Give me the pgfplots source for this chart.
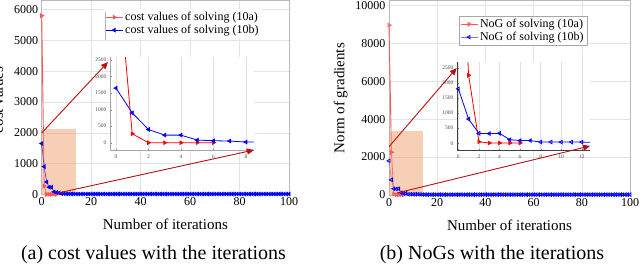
\documentclass[border=0pt]{standalone}
\usepackage{pgfplots}
\pgfplotsset{compat=1.18}
\usetikzlibrary{arrows.meta}
\usepackage{fontspec}
\setmainfont{Liberation Serif}
\definecolor{arrowred}{RGB}{185,15,15}
\definecolor{peach}{RGB}{240,160,110}
\definecolor{lred}{RGB}{255,85,85}
\definecolor{lblue}{RGB}{120,120,255}
\pgfplotsset{
 mainax/.style={scale only axis, anchor=south west, xmin=0, xmax=100,
  grid=major, grid style={gray!22}, axis line style={gray!55},
  major tick length=0pt,
  tick label style={font=\fontsize{12}{14}\selectfont},
  label style={font=\fontsize{15}{17}\selectfont},
  /pgf/number format/assume math mode=true,
  /pgf/number format/set thousands separator={},
  scaled y ticks=false, clip=false, xtick={0,20,...,100},
  xlabel={Number of iterations},
  xlabel style={at={(axis description cs:0.5,-0.155)}, anchor=center},
  legend style={font=\fontsize{12}{13}\selectfont, anchor=north west, inner sep=1pt, row sep=-1pt},
  legend cell align=left},
 inax/.style={scale only axis, anchor=south west,
  axis background/.style={fill=white},
  xmajorgrids, grid style={gray!25},
  axis x line*=bottom, axis y line*=left,
  axis line style={gray!70, line width=0.8pt},
  major tick length=1.5pt, tick style={gray},
  tick label style={font=\fontsize{5.5}{6}\selectfont, text=black!70},
  xticklabel style={yshift=-1pt},
  /pgf/number format/assume math mode=true,
  /pgf/number format/set thousands separator={},
  scaled y ticks=false, clip=true,
  ytick={0,500,...,2500}},
 rmark/.style={mark=triangle*, mark size=2pt, mark options={rotate=-90, solid}},
 bmark/.style={mark=triangle*, mark size=2pt, mark options={rotate=90, solid}},
 bmarko/.style={mark=triangle, mark size=2pt, mark options={rotate=90, solid, draw=blue}},
}
\begin{document}
\begin{tikzpicture}
\path[use as bounding box] (0pt,0pt) rectangle (640pt,266pt);

% ---------- left main
\begin{axis}[mainax, at={(41.7pt,71.7pt)}, width=247.3pt, height=194pt,
  ymin=0, ymax=6300, ytick={0,1000,...,6000},
  ylabel={cost values},
  ylabel style={at={(axis description cs:-0.178,0.486)}, anchor=center},
  legend style={at={(axis description cs:0.252,0.955)}, draw=none, fill=white}]
\addplot[lred, line width=0.9pt, rmark] coordinates {(0,5800)(1,270)(2,0)(3,0)(4,0)(5,0)(6,0)};
\addlegendentry{cost values of solving (10a)}
\addplot[blue, line width=0.8pt, bmark] coordinates {
(0,1650)(1,900)(2,400)(3,230)(4,230)(5,80)(6,60)(7,50)(8,20)(9,18)
(10,15)(11,14)(12,12)(13,12)(14,11)(15,10)(16,10)(17,10)(18,10)(19,10)
(20,10)(21,10)(22,10)(23,10)(24,10)(25,10)(26,10)(27,10)(28,10)(29,10)
(30,10)(31,10)(32,10)(33,10)(34,10)(35,10)(36,10)(37,10)(38,10)(39,10)
(40,10)(41,10)(42,10)(43,10)(44,10)(45,10)(46,10)(47,10)(48,10)(49,10)
(50,10)(51,10)(52,10)(53,10)(54,10)(55,10)(56,10)(57,10)(58,10)(59,10)
(60,10)(61,10)(62,10)(63,10)(64,10)(65,10)(66,10)(67,10)(68,10)(69,10)
(70,10)(71,10)(72,10)(73,10)(74,10)(75,10)(76,10)(77,10)(78,10)(79,10)
(80,10)(81,10)(82,10)(83,10)(84,10)(85,10)(86,10)(87,10)(88,10)(89,10)
(90,10)(91,10)(92,10)(93,10)(94,10)(95,10)(96,10)(97,10)(98,10)(99,10)(100,10)};
\addlegendentry{cost values of solving (10b)}
\fill[peach, fill opacity=0.5] (axis cs:0,0) rectangle (axis cs:13.7,2110);
\end{axis}
\draw[gray!60, line width=0.8pt] (105pt,254pt) -- (105pt,226pt);

% ---------- left inset
\begin{axis}[inax, at={(110pt,116pt)}, width=144pt, height=93pt,
  xmin=-0.37, xmax=8.5, ymin=-220, ymax=2590, xtick={0,2,...,8}]
\addplot[red, line width=0.8pt, rmark] coordinates {(0,5800)(1,270)(2,0)(3,0)(4,0)(5,0)(6,0)};
\addplot[blue, line width=0.8pt, bmark] coordinates {(0,1650)(1,900)(2,400)(3,230)(4,230)(5,80)(6,60)(7,50)(8,20)(9,18)};
\end{axis}
\draw[arrowred, line width=0.9pt, -{Triangle[length=7pt,width=6pt]}] (41.7pt,133pt) -- (108pt,204pt);
\draw[arrowred, line width=0.9pt, -{Triangle[length=7pt,width=6pt]}] (58pt,73pt) -- (254pt,116pt);

% ---------- right main
\begin{axis}[mainax, at={(389pt,71pt)}, width=241pt, height=195pt,
  ymin=0, ymax=10280, ytick={0,2000,...,10000},
  ylabel={Norm of gradients},
  ylabel style={at={(axis description cs:-0.2,0.497)}, anchor=center},
  legend style={at={(axis description cs:0.29,0.918)}, draw=gray!70, fill=white}]
\addplot[lred, line width=0.9pt, mark=triangle, mark size=2pt, mark options={rotate=-90, solid}] coordinates {(0,8950)(1,2250)(2,50)(3,10)(4,10)(5,10)(6,10)};
\addlegendentry{NoG of solving (10a)}
\addplot[lblue, line width=0.8pt, bmarko] coordinates {
(0,1800)(1,800)(2,330)(3,320)(4,330)(5,120)(6,90)(7,90)(8,40)(9,40)
(10,40)(11,40)(12,40)(13,30)(14,25)(15,22)(16,20)(17,20)(18,20)(19,20)
(20,20)(21,20)(22,20)(23,20)(24,20)(25,20)(26,20)(27,20)(28,20)(29,20)
(30,20)(31,20)(32,20)(33,20)(34,20)(35,20)(36,20)(37,20)(38,20)(39,20)
(40,20)(41,20)(42,20)(43,20)(44,20)(45,20)(46,20)(47,20)(48,20)(49,20)
(50,20)(51,20)(52,20)(53,20)(54,20)(55,20)(56,20)(57,20)(58,20)(59,20)
(60,20)(61,20)(62,20)(63,20)(64,20)(65,20)(66,20)(67,20)(68,20)(69,20)
(70,20)(71,20)(72,20)(73,20)(74,20)(75,20)(76,20)(77,20)(78,20)(79,20)
(80,20)(81,20)(82,20)(83,20)(84,20)(85,20)(86,20)(87,20)(88,20)(89,20)
(90,20)(91,20)(92,20)(93,20)(94,20)(95,20)(96,20)(97,20)(98,20)(99,20)(100,20)};
\addlegendentry{NoG of solving (10b)}
\fill[peach, fill opacity=0.5] (axis cs:0,0) rectangle (axis cs:14,3380);
\end{axis}

% ---------- right inset
\begin{axis}[inax, at={(457pt,116pt)}, width=133pt, height=88pt,
  xmin=-0.13, xmax=12.8, ymin=-222, ymax=2688, xtick={0,2,...,12},
  axis line style={black!75, line width=0.8pt}]
\addplot[red, line width=0.8pt, rmark] coordinates {(0,8950)(1,2250)(2,50)(3,10)(4,10)(5,10)(6,10)};
\addplot[blue, line width=0.8pt, bmarko] coordinates {(0,1800)(1,800)(2,330)(3,320)(4,330)(5,120)(6,90)(7,90)(8,40)(9,40)(10,40)(11,40)(12,40)(13,30)};
\end{axis}
\draw[arrowred, line width=0.9pt, -{Triangle[length=7pt,width=6pt]}] (389pt,119.3pt) -- (456.7pt,198pt);
\draw[arrowred, line width=0.9pt, -{Triangle[length=7pt,width=6pt]}] (397pt,73pt) -- (590pt,120pt);

% ---------- captions
\node[font=\fontsize{20}{22}\selectfont, anchor=center] at (153.5pt,11pt) {(a)~cost values with the iterations};
\node[font=\fontsize{20}{22}\selectfont, anchor=center] at (492pt,11pt) {(b)~NoGs with the iterations};
\end{tikzpicture}
\end{document}
